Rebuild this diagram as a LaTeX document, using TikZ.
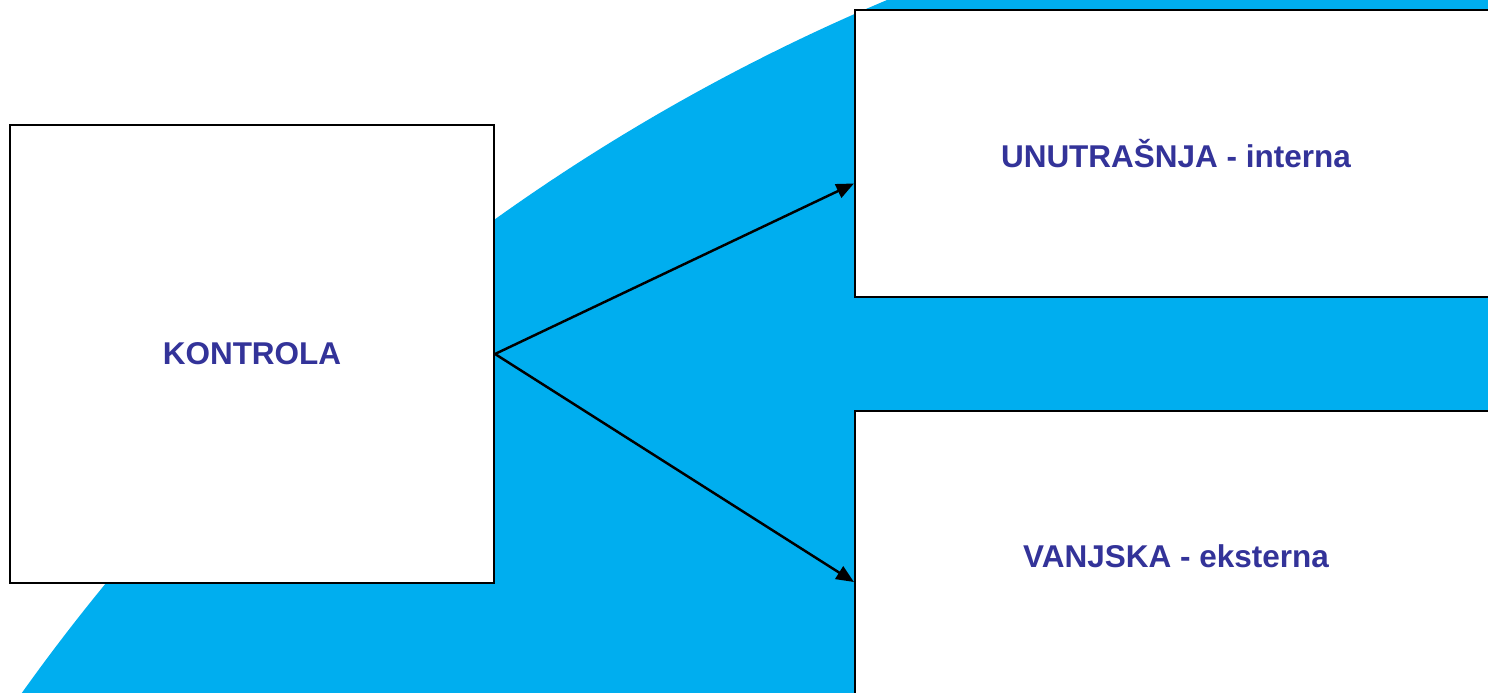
\documentclass[tikz,border=0pt]{standalone}
\usepackage{fontspec}
\setmainfont{Liberation Sans}
\usetikzlibrary{arrows.meta}
\definecolor{skyblue}{HTML}{00AEEF}
\definecolor{textblue}{HTML}{333399}

\begin{document}
\begin{tikzpicture}[
            line width=0.6pt, >={Triangle[length=5pt,width=4.2pt]},
        box node/.style={rectangle,draw,fill=white,inner sep=0pt,text=textblue,font=\fontsize{8.96}{10}\selectfont\bfseries}
                                ]
          \useasboundingbox (0,0) rectangle (14.88,-6.93);
          \begin{scope}
            \clip (0,0) rectangle (14.88,-6.93);
            \fill[skyblue] (16.73,-18.69) circle (20.27);
          \end{scope}

          \node[box node,minimum width=4.84cm,minimum height=4.58cm] (kontrola) at (2.52,-3.54) {KONTROLA};
          \node[box node,minimum width=6.42cm,minimum height=2.87cm] (interna) at (11.76,-1.535) {UNUTRAŠNJA - interna};
          \node[box node,minimum width=6.42cm,minimum height=2.90cm] (eksterna) at (11.76,-5.56) {VANJSKA - eksterna};

          \path[->,line width=0.7pt]
            (kontrola.east) edge ([yshift=-0.3cm]interna.west)
            (kontrola.east) edge ([yshift=-0.26cm]eksterna.west);
\end{tikzpicture}
\end{document}
